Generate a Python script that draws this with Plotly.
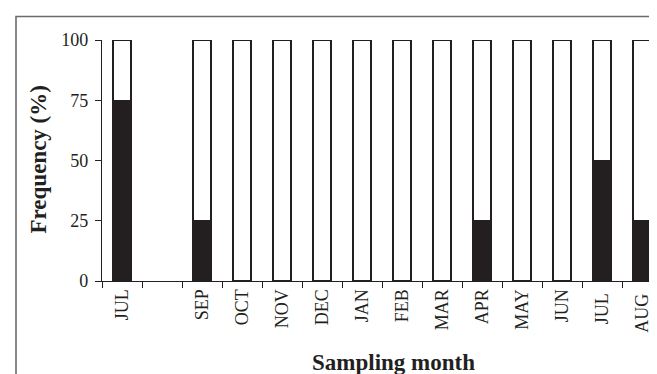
import plotly.graph_objects as go

# Categories (slot 2 is an empty, unlabeled month gap); trailing spaces keep keys unique
categories = ["JUL", " ", "SEP", "OCT", "NOV", "DEC", "JAN", "FEB", "MAR", "APR", "MAY", "JUN", "JUL ", "AUG "]
dark_pct = [75, None, 25, 0, 0, 0, 0, 0, 0, 25, 0, 0, 50, 25]
white_pct = [25, None, 75, 100, 100, 100, 100, 100, 100, 75, 100, 100, 50, 75]
y_ticks = [0, 25, 50, 75, 100]

INK = "#231f20"
FONT = "Liberation Serif"

W, H = 657, 374
ML, MR, MT, MB = 94, 3, 32, 101
PW, PH = W - ML - MR, H - MT - MB

def px_x(px):
    return (px - ML) / PW

def px_y(py):
    return (H - MB - py) / PH

fig = go.Figure()
fig.add_trace(go.Bar(x=categories, y=dark_pct, width=0.44,
                     marker=dict(color=INK, line=dict(color=INK, width=1.5)),
                     showlegend=False, hoverinfo="skip"))
fig.add_trace(go.Bar(x=categories, y=white_pct, width=0.44,
                     marker=dict(color="white", line=dict(color=INK, width=1.5)),
                     showlegend=False, hoverinfo="skip"))

fig.update_layout(
    barmode="stack",
    width=W, height=H,
    margin=dict(l=ML, r=MR, t=MT, b=MB, pad=0),
    paper_bgcolor="white", plot_bgcolor="white",
    font=dict(family=FONT, color=INK, size=18),
)
fig.update_xaxes(
    type="category", tickson="boundaries", ticks="outside", ticklen=6,
    tickwidth=1.3, tickcolor=INK, showline=True, linecolor=INK, linewidth=1.3,
    tickangle=-90, tickfont=dict(family=FONT, size=18, color=INK),
    showgrid=False, zeroline=False,
)
fig.update_yaxes(
    range=[0, 100], tickmode="array", tickvals=y_ticks,
    ticks="outside", ticklen=6, tickwidth=1.3, tickcolor=INK,
    showline=True, linecolor=INK, linewidth=1.3, showgrid=False, zeroline=False,
    tickfont=dict(family=FONT, size=18, color=INK), ticklabelstandoff=3,
)

# Axis titles
fig.add_annotation(text="<b>Sampling month</b>", xref="paper", yref="paper",
                   x=px_x(385), y=px_y(354), xanchor="center", yanchor="middle",
                   showarrow=False, font=dict(family=FONT, size=23, color=INK))
fig.add_annotation(text="<b>Frequency (%)</b>", xref="paper", yref="paper",
                   x=px_x(30), y=px_y(151.5), xanchor="center", yanchor="middle",
                   textangle=-90, showarrow=False,
                   font=dict(family=FONT, size=23, color=INK))

# Outer frame (left and top edges)
fig.add_shape(type="path", xref="paper", yref="paper",
              path=f"M {px_x(8)},{px_y(380)} L {px_x(8)},{px_y(8.5)} L {px_x(660)},{px_y(8.5)}",
              line=dict(color="#6a6a6a", width=1.6))

fig.write_html("out.html")
